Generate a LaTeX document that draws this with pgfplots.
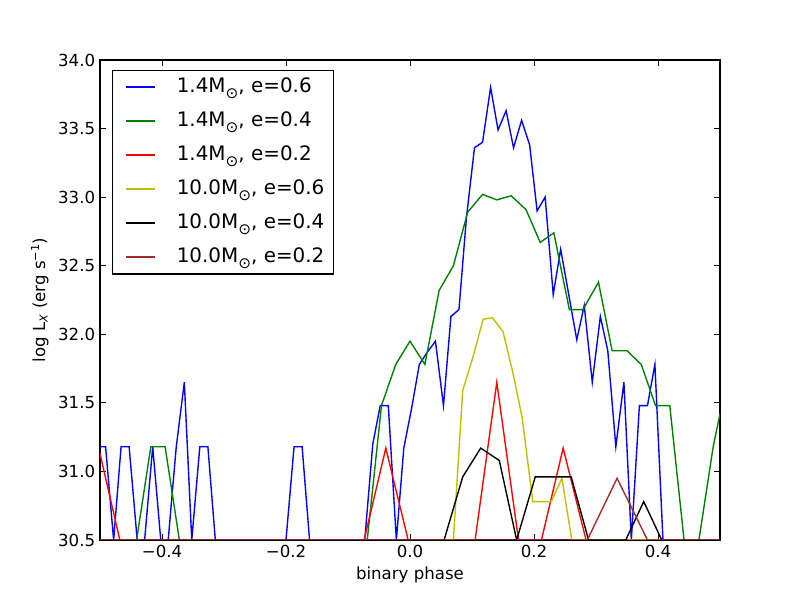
\documentclass[border=0pt]{standalone}
\usepackage{fontspec}
\setmainfont{DejaVu Sans}
\usepackage{pgfplots}
\pgfplotsset{compat=1.18}
\definecolor{mplblue}{rgb}{0,0,1}
\definecolor{mplgreen}{rgb}{0,0.5,0}
\definecolor{mplred}{rgb}{1,0,0}
\definecolor{mplyellow}{rgb}{0.75,0.75,0}
\definecolor{mplbrown}{RGB}{165,42,42}
\newcommand{\sun}{\raisebox{-4.5pt}{\fontsize{11}{11}\selectfont ⊙}}

\begin{document}
\begin{tikzpicture}
\useasboundingbox (0,0) rectangle (8in,6in);
\begin{axis}[
  at={(1in,0.6in)}, anchor=south west,
  scale only axis, width=6.2in, height=4.8in,
  xmin=-0.5, xmax=0.5, ymin=30.5, ymax=34,
  xtick={-0.4,-0.2,0,0.2,0.4},
  xticklabels={−0.4,−0.2,0.0,0.2,0.4},
  ytick={30.5,31.0,31.5,32.0,32.5,33.0,33.5,34.0},
  yticklabels={30.5,31.0,31.5,32.0,32.5,33.0,33.5,34.0},
  tick align=inside,
  major tick length=4pt,
  minor tick num=0,
  tick style={black, line width=0.6pt},
  axis line style={line width=1pt},
  ticklabel style={font=\fontsize{12}{14}\selectfont},
  label style={font=\fontsize{12}{14}\selectfont},
  xlabel={binary phase},
  ylabel={log L\textsubscript{\itshape X} (erg s\textsuperscript{−1})},
  every axis plot/.append style={line width=1pt},
  legend cell align=left,
  legend image code/.code={%
    \draw[#1, line width=1.2pt] (3.5pt,0.36pt) -- (24.5pt,0.36pt);
    \path[draw=none, fill=none] (0pt,0pt) -- (40pt,0pt);},
  legend style={
    at={(0.019,0.979)}, anchor=north west,
    draw=black, line width=1pt,
    font=\fontsize{14.4}{17}\selectfont,
    inner xsep=6.5pt, inner ysep=4.5pt,
    row sep=9.6pt,
    nodes={inner xsep=0pt, inner ysep=0pt, text height=11pt, text depth=4pt},
  },
]
% 1.4 Msun, e=0.6
\addplot[mplblue] coordinates {
(-0.5,31.18) (-0.491,31.18) (-0.478,30.5) (-0.466,31.18) (-0.453,31.18)
(-0.440,30.5) (-0.428,30.5) (-0.415,31.18) (-0.402,30.5) (-0.390,30.5)
(-0.377,31.18) (-0.364,31.65) (-0.352,30.5) (-0.339,31.18) (-0.326,31.18)
(-0.314,30.5) (-0.200,30.5) (-0.187,31.18) (-0.174,31.18) (-0.162,30.5)
(-0.073,30.5) (-0.060,31.20) (-0.048,31.48) (-0.035,31.48) (-0.022,30.5)
(-0.010,31.17) (0.003,31.47) (0.015,31.78) (0.028,31.87) (0.041,31.95)
(0.054,31.48) (0.066,32.13) (0.079,32.18) (0.091,32.85) (0.104,33.36)
(0.117,33.40) (0.130,33.80) (0.142,33.49) (0.155,33.63) (0.167,33.36)
(0.180,33.56) (0.193,33.38) (0.205,32.90) (0.218,33.00) (0.231,32.29)
(0.243,32.62) (0.256,32.29) (0.269,31.96) (0.281,32.21) (0.294,31.65)
(0.307,32.13) (0.319,31.88) (0.332,31.18) (0.345,31.65) (0.357,30.5)
(0.370,31.48) (0.383,31.48) (0.395,31.78) (0.408,30.5) (0.5,30.5)
};
\addlegendentry{1.4M\sun, e=0.6}
% 1.4 Msun, e=0.4
\addplot[mplgreen] coordinates {
(-0.5,30.5) (-0.441,30.5) (-0.418,31.18) (-0.395,31.18) (-0.372,30.5)
(-0.069,30.5) (-0.046,31.48) (-0.023,31.78) (0.000,31.95) (0.024,31.78)
(0.047,32.32) (0.070,32.50) (0.093,32.89) (0.117,33.02) (0.140,32.98)
(0.163,33.01) (0.187,32.91) (0.210,32.67) (0.232,32.74) (0.257,32.18)
(0.279,32.18) (0.304,32.38) (0.326,31.88) (0.350,31.88) (0.373,31.78)
(0.396,31.48) (0.419,31.48) (0.442,30.5) (0.466,30.5) (0.489,31.18)
(0.5,31.42)
};
\addlegendentry{1.4M\sun, e=0.4}
% 1.4 Msun, e=0.2
\addplot[mplred] coordinates {
(-0.5,31.13) (-0.468,30.5) (-0.074,30.5) (-0.039,31.17) (-0.003,30.5)
(0.105,30.5) (0.140,31.65) (0.175,30.5) (0.212,30.5) (0.247,31.17)
(0.284,30.5) (0.5,30.5)
};
\addlegendentry{1.4M\sun, e=0.2}
% 10.0 Msun, e=0.6
\addplot[mplyellow] coordinates {
(-0.5,30.5) (0.070,30.5) (0.085,31.59) (0.102,31.84) (0.118,32.11)
(0.133,32.12) (0.150,32.02) (0.166,31.72) (0.181,31.39) (0.198,30.78)
(0.213,30.78) (0.228,30.78) (0.245,30.95) (0.261,30.5) (0.5,30.5)
};
\addlegendentry{10.0M\sun, e=0.6}
% 10.0 Msun, e=0.4
\addplot[black] coordinates {
(-0.5,30.5) (0.055,30.5) (0.085,30.96) (0.114,31.17) (0.144,31.08)
(0.172,30.5) (0.202,30.96) (0.231,30.96) (0.260,30.96) (0.288,30.5)
(0.348,30.5) (0.377,30.78) (0.406,30.5) (0.5,30.5)
};
\addlegendentry{10.0M\sun, e=0.4}
% 10.0 Msun, e=0.2
\addplot[mplbrown] coordinates {
(-0.5,30.5) (0.286,30.5) (0.334,30.95) (0.383,30.5) (0.5,30.5)
};
\addlegendentry{10.0M\sun, e=0.2}
\end{axis}
\end{tikzpicture}
\end{document}
